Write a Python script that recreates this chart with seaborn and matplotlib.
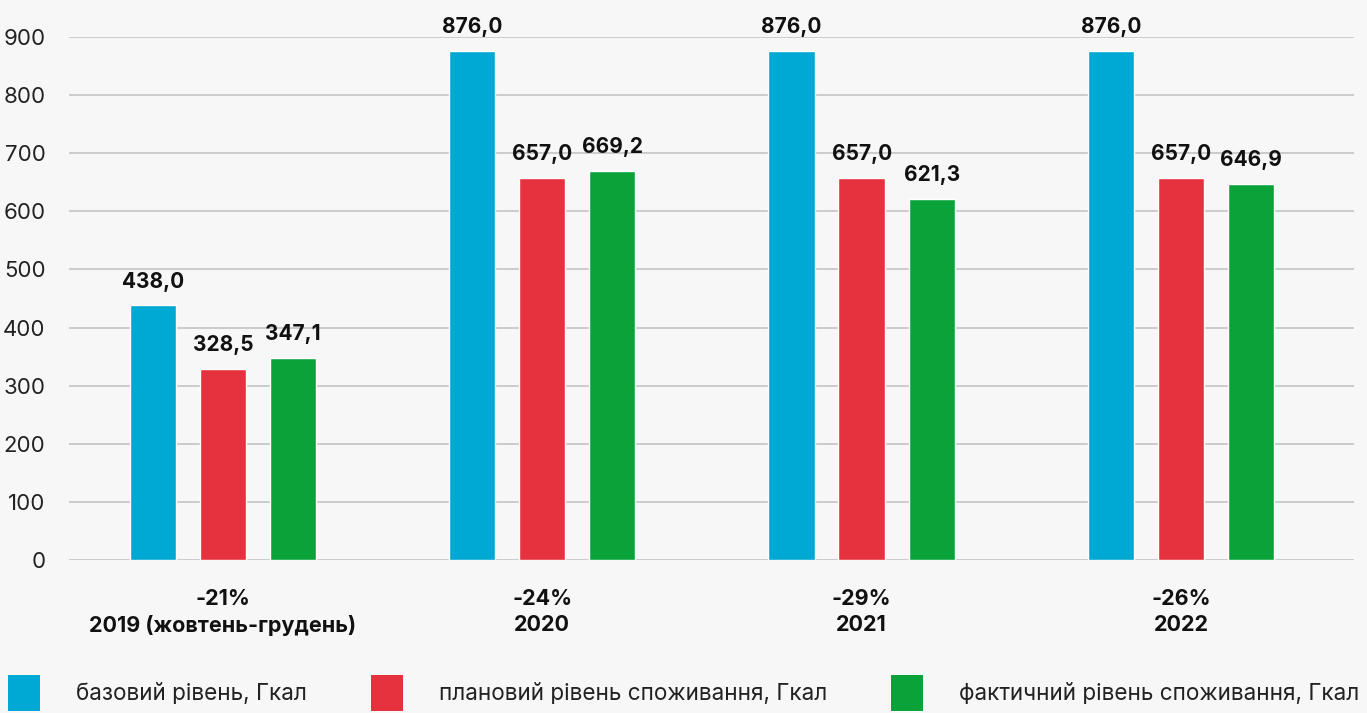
import matplotlib
matplotlib.use("Agg")
import matplotlib.pyplot as plt
from matplotlib.patches import Patch
import pandas as pd
import seaborn as sns

# ── data ──────────────────────────────────────────────────────────────────────
years = ["2019 (жовтень-грудень)", "2020", "2021", "2022"]
changes = ["-21%", "-24%", "-29%", "-26%"]
series = ["базовий рівень, Гкал",
          "плановий рівень споживання, Гкал",
          "фактичний рівень споживання, Гкал"]
base_level = [438.0, 876.0, 876.0, 876.0]
plan_level = [328.5, 657.0, 657.0, 657.0]
fact_level = [347.1, 669.2, 621.3, 646.9]
colors = ["#00a9d4", "#e6323e", "#0aa33a"]
y_ticks = [0, 100, 200, 300, 400, 500, 600, 700, 800, 900]

df = pd.DataFrame({
    "year": years * 3,
    "series": [s for s in series for _ in years],
    "value": base_level + plan_level + fact_level,
})

# ── style ─────────────────────────────────────────────────────────────────────
BG = "#f7f7f7"
sns.set_theme(style="white")
plt.rcParams["font.family"] = ["Inter", "DejaVu Sans"]

fig = plt.figure(figsize=(13.67, 7.13), dpi=100, facecolor=BG)
ax = fig.add_axes([0.0505, 0.2146, 0.94, 0.7335], facecolor=BG)

sns.barplot(data=df, x="year", y="value", hue="series", order=years,
            hue_order=series, palette=colors, width=0.658, gap=0.34,
            saturation=1, legend=False, ax=ax)

for cont in ax.containers:
    ax.bar_label(cont, labels=[f"{v:.1f}".replace(".", ",") for v in cont.datavalues],
                 padding=10, fontsize=15, fontweight="bold", color="#111111")

ax.set_ylim(0, 900)
ax.set_xlim(-0.482, 3.542)
ax.set_yticks(y_ticks)
ax.set_xticks(range(len(years)))
ax.set_xticklabels([f"{c}\n{y}" for c, y in zip(changes, years)],
                   fontweight="bold", fontsize=15.5, linespacing=1.35)
ax.tick_params(axis="y", length=0, pad=17, labelsize=16, colors="#222222")
ax.tick_params(axis="x", length=0, pad=21, colors="#111111")
ax.set_xlabel("")
ax.set_ylabel("")
ax.yaxis.grid(True, color="#c8c8c8", lw=1.3)
ax.set_axisbelow(True)
for sp in ax.spines.values():
    sp.set_visible(False)

handles = [Patch(facecolor=c, edgecolor="none") for c in colors]
fig.legend(handles, series, loc="upper left", bbox_to_anchor=(0.006, 0.053),
           ncol=3, frameon=False, fontsize=16.2, handlelength=1.42,
           handleheight=2.05, handletextpad=1.6, columnspacing=2.85,
           borderpad=0, borderaxespad=0, labelcolor="#222222")

fig.savefig("out.png", dpi=100, facecolor=BG)
